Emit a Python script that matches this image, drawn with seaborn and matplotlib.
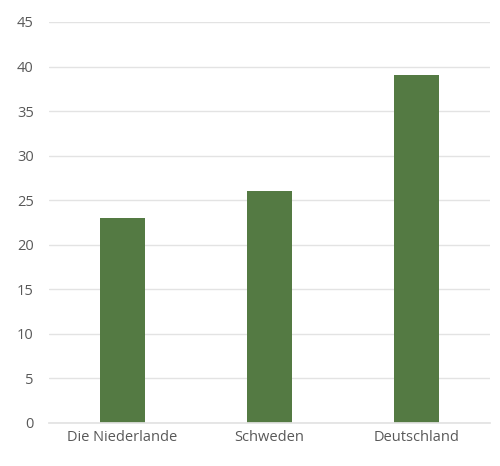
import matplotlib
matplotlib.use("Agg")
import matplotlib.pyplot as plt
import seaborn as sns
import pandas as pd

categories = ["Die Niederlande", "Schweden", "Deutschland"]
values = [23, 26, 39]
yticks = [0, 5, 10, 15, 20, 25, 30, 35, 40, 45]

sns.set_theme(style="white")
plt.rcParams['font.family'] = ['Open Sans', 'DejaVu Sans']

df = pd.DataFrame({"cat": categories, "val": values})

fig = plt.figure(figsize=(5, 4.66), dpi=100)
ax = fig.add_axes([0.098, 0.0923, 0.882, 0.8605])
sns.barplot(data=df, x="cat", y="val", color="#547A43", width=0.31,
            saturation=1, linewidth=0, ax=ax)
ax.set_ylim(0, 45)
ax.set_xlim(-0.5, 2.5)
ax.set_yticks(yticks)
ax.yaxis.grid(True, color="#E3E3E3", linewidth=1)
ax.set_axisbelow(True)
ax.set_xlabel("")
ax.set_ylabel("")
for s in ["top", "right", "left"]:
    ax.spines[s].set_visible(False)
ax.spines["bottom"].set_color("#E3E3E3")
ax.tick_params(axis="both", length=0, labelsize=10.5, colors="#595959")
ax.tick_params(axis="y", pad=11)
ax.tick_params(axis="x", pad=5)
fig.savefig("out.png", dpi=100, facecolor="white")
